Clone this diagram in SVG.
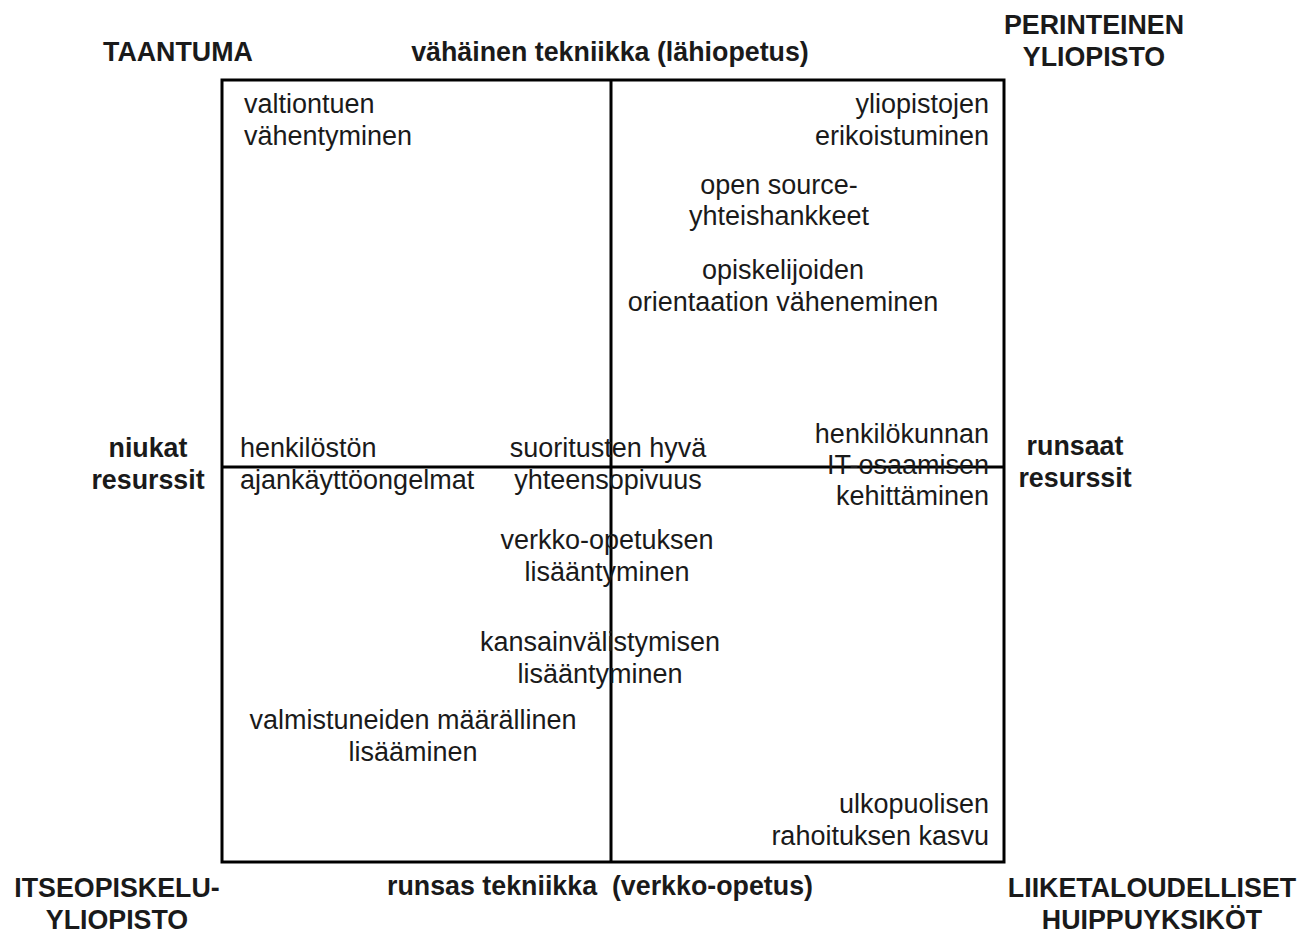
<svg xmlns="http://www.w3.org/2000/svg" width="1301" height="933" viewBox="0 0 1301 933">
<style>
text{font-family:"Liberation Sans",Arial,sans-serif;font-size:27px;fill:#1a1a1a}
.b{font-weight:bold;font-size:26.8px}
.l{text-anchor:start}.m{text-anchor:middle}.r{text-anchor:end}
.ln{stroke:#000;stroke-width:3;fill:none}
</style>
<rect width="1301" height="933" fill="#fff"/>
<g id="connectors">
<rect class="ln" x="222" y="80" width="782" height="782"/>
<line class="ln" x1="611" y1="80" x2="611" y2="862"/>
<line class="ln" x1="222" y1="467" x2="1004" y2="467"/>
</g>
<g id="axis-labels">
<text class="b l" x="103" y="61">TAANTUMA</text>
<text class="b m" x="610" y="61">vähäinen tekniikka (lähiopetus)</text>
<text class="b m" x="1094" y="34">PERINTEINEN</text>
<text class="b m" x="1094" y="66">YLIOPISTO</text>
<text class="b m" x="148" y="457">niukat</text>
<text class="b m" x="148" y="489">resurssit</text>
<text class="b m" x="1075" y="455">runsaat</text>
<text class="b m" x="1075" y="487">resurssit</text>
<text class="b m" x="600" y="895" xml:space="preserve">runsas tekniikka  (verkko-opetus)</text>
<text class="b m" x="117" y="897">ITSEOPISKELU-</text>
<text class="b m" x="117" y="929">YLIOPISTO</text>
<text class="b m" x="1152" y="897">LIIKETALOUDELLISET</text>
<text class="b m" x="1152" y="929">HUIPPUYKSIKÖT</text>
</g>
<g id="n1"><text class="l" x="244" y="113">valtiontuen</text><text class="l" x="244" y="145">vähentyminen</text></g>
<g id="n2"><text class="r" x="989" y="113">yliopistojen</text><text class="r" x="989" y="145">erikoistuminen</text></g>
<g id="n3"><text class="m" x="779" y="194">open source-</text><text class="m" x="779" y="225">yhteishankkeet</text></g>
<g id="n4"><text class="m" x="783" y="279">opiskelijoiden</text><text class="m" x="783" y="311">orientaation väheneminen</text></g>
<g id="n5"><text class="l" x="240" y="457">henkilöstön</text><text class="l" x="240" y="489">ajankäyttöongelmat</text></g>
<g id="n6"><text class="m" x="608" y="457">suoritusten hyvä</text><text class="m" x="608" y="489">yhteensopivuus</text></g>
<g id="n7"><text class="r" x="989" y="443">henkilökunnan</text><text class="r" x="989" y="474">IT-osaamisen</text><text class="r" x="989" y="505">kehittäminen</text></g>
<g id="n8"><text class="m" x="607" y="549">verkko-opetuksen</text><text class="m" x="607" y="581">lisääntyminen</text></g>
<g id="n9"><text class="m" x="600" y="651">kansainvälistymisen</text><text class="m" x="600" y="683">lisääntyminen</text></g>
<g id="n10"><text class="m" x="413" y="729">valmistuneiden määrällinen</text><text class="m" x="413" y="761">lisääminen</text></g>
<g id="n11"><text class="r" x="989" y="813">ulkopuolisen</text><text class="r" x="989" y="845">rahoituksen kasvu</text></g>
</svg>
